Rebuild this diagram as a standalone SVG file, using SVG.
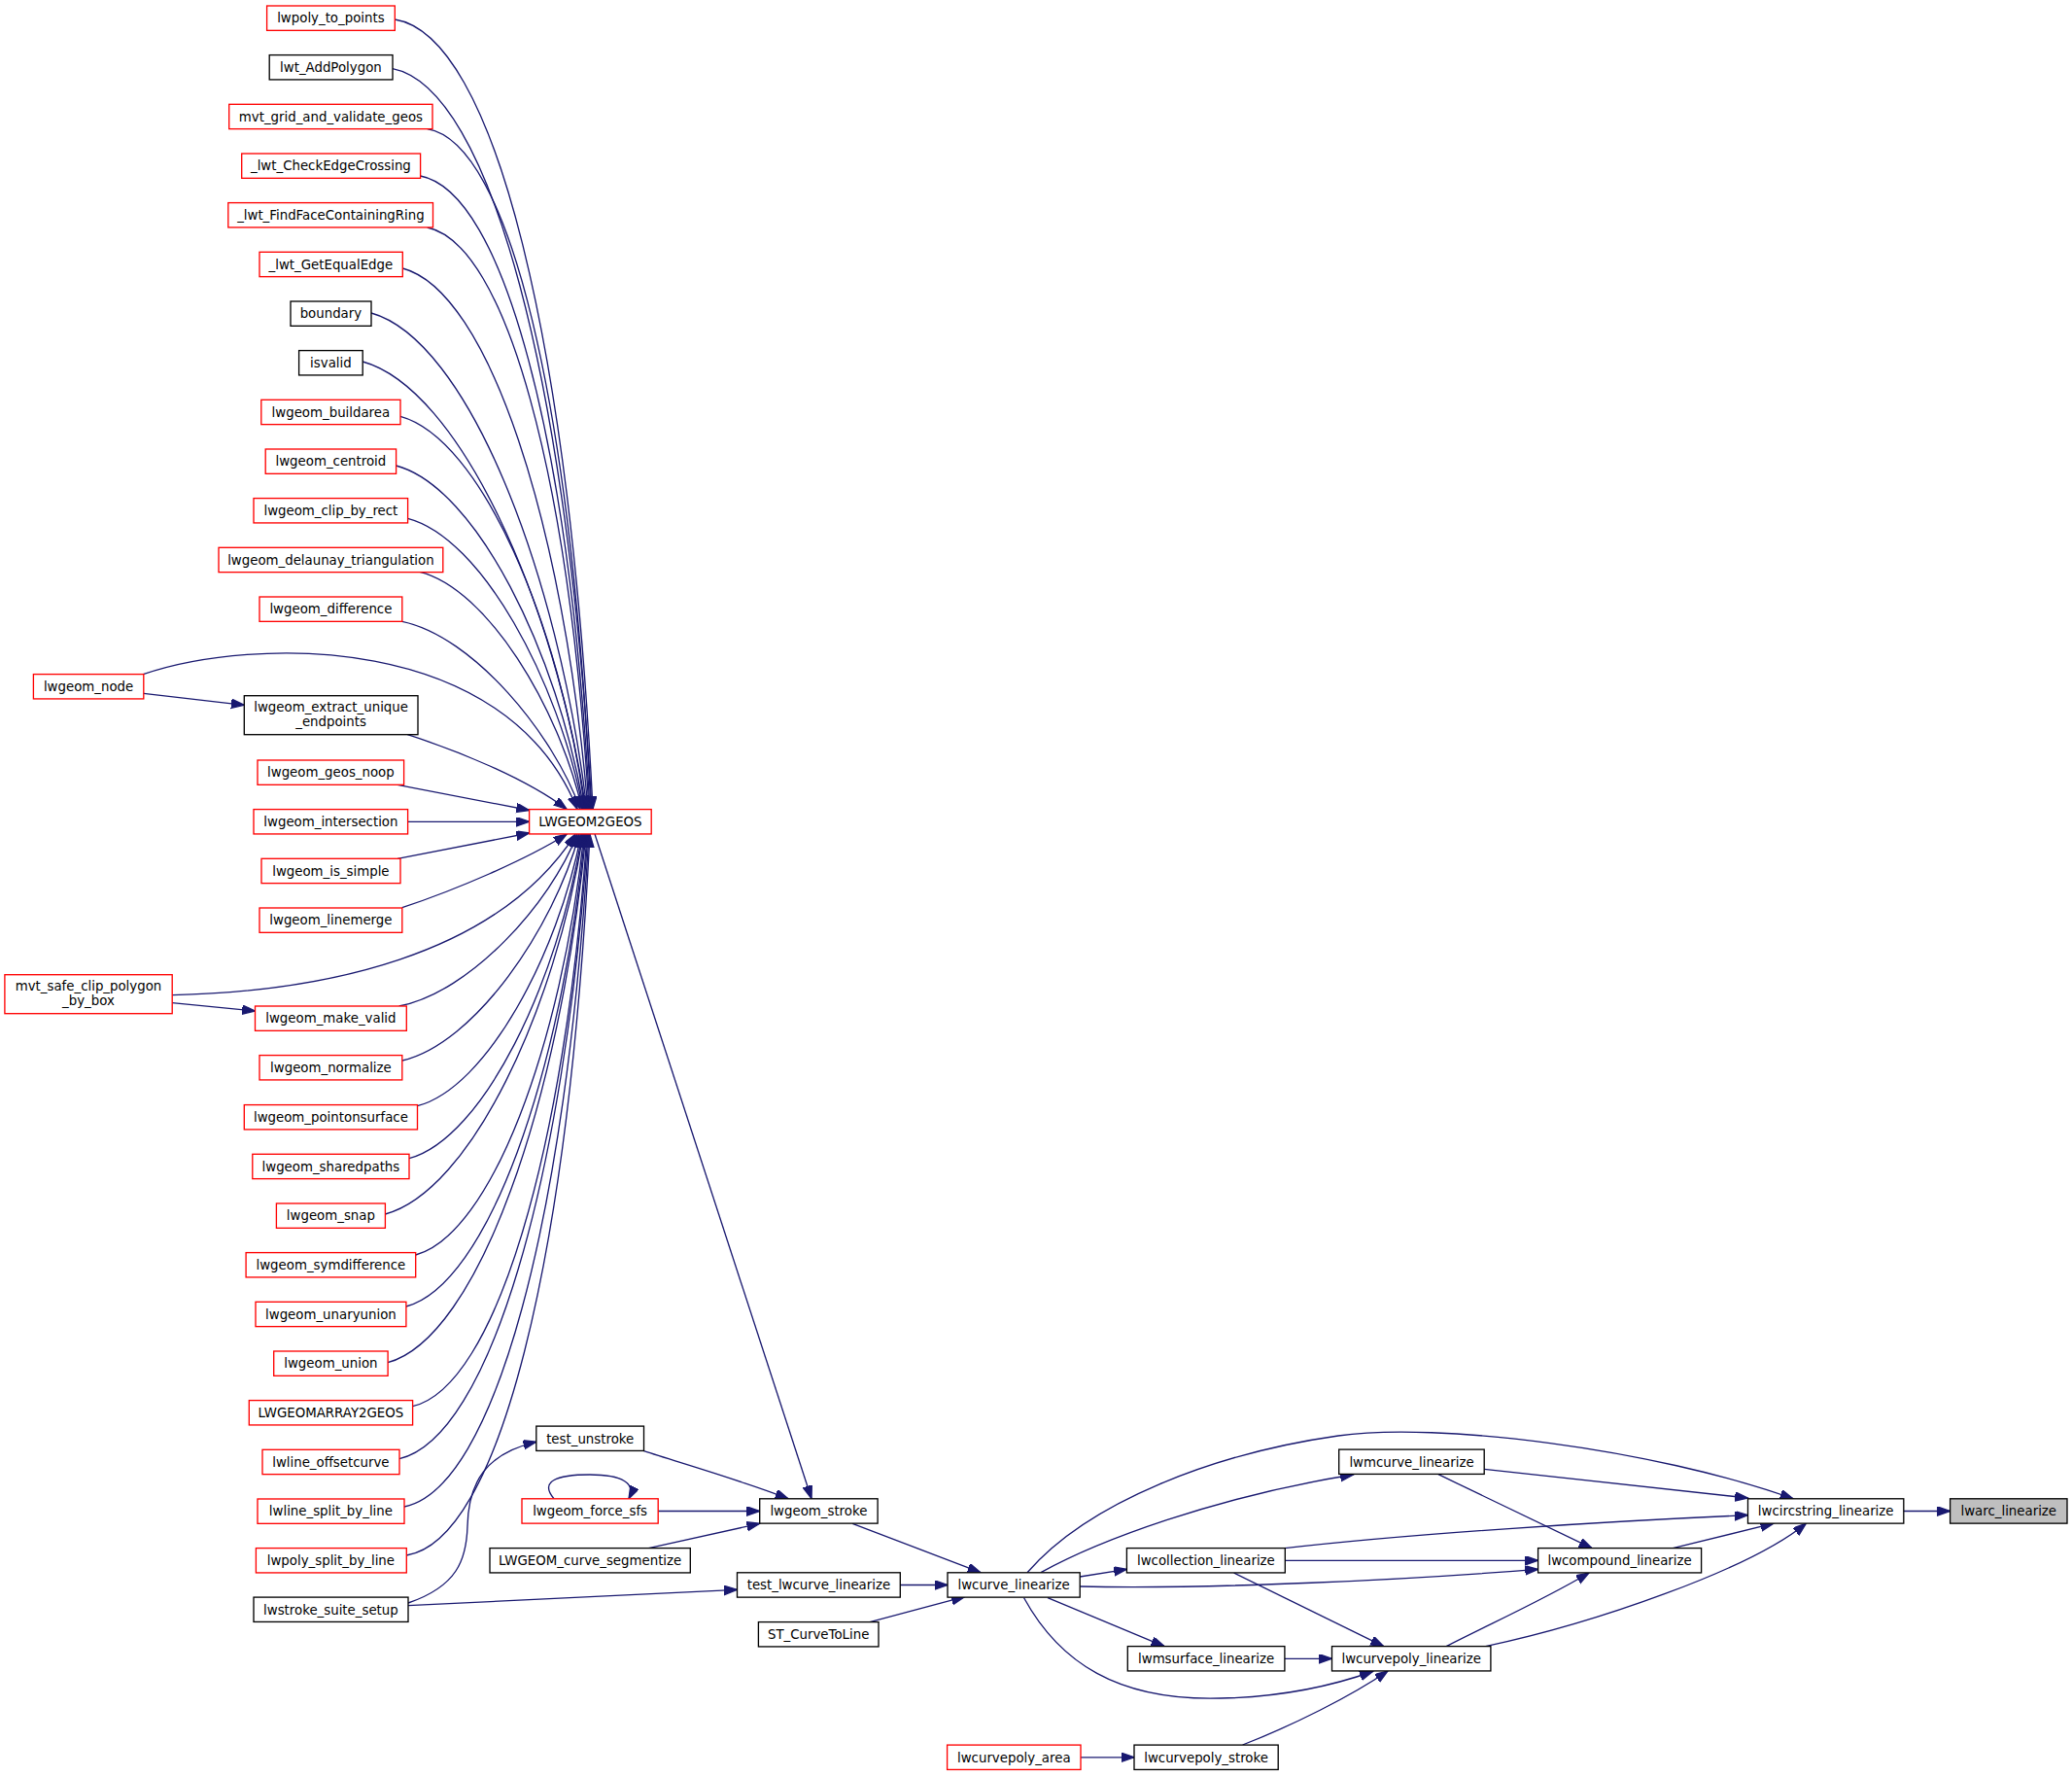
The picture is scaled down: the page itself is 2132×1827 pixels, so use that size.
<svg xmlns="http://www.w3.org/2000/svg" width="2132" height="1827" viewBox="0 0 2132 1827">
<style>
.node rect{fill:#ffffff;stroke:#000000;stroke-width:1.33}
.node.red rect{stroke:#ff0000}
.node.cur rect{fill:#bfbfbf}
.node text{font-family:"DejaVu Sans","Liberation Sans",sans-serif;font-size:13.33px;fill:#000000;text-anchor:middle}
.edges path{fill:none;stroke:#191970;stroke-width:1.33;marker-end:url(#arr)}
</style>
<defs>
<marker id="arr" markerUnits="userSpaceOnUse" markerWidth="16" markerHeight="12" refX="13.33" refY="4.67" orient="auto">
<path d="M0,0 L13.33,4.67 L0,9.33 Z" fill="#191970" stroke="#191970" stroke-width="1.33"/>
</marker>
</defs>
<rect x="0" y="0" width="2132" height="1827" fill="#ffffff"/>
<g id="edges" class="edges">
<path d="M406.3,20 C508.2,36.2 585.6,344.9 610,832.3"/>
<path d="M404,70.7 C504.5,90.5 583.8,390.6 609,832.3"/>
<path d="M439.7,132.7 C523.9,146.7 587.8,412.5 608,832.3"/>
<path d="M432.6,181 C518.2,197.3 585.6,453.2 607,832.3"/>
<path d="M439.7,234 C520.7,250.8 585.4,488.9 606,832.3"/>
<path d="M414.3,276 C502.8,299.4 580,538.6 605,832.3"/>
<path d="M382,322 C480.3,349.6 573.6,584.3 604,832.3"/>
<path d="M373.2,372 C472.7,399.6 570.8,617.8 603,832.3"/>
<path d="M412,428.3 C495.2,451.3 575.6,640 602,832.3"/>
<path d="M407.6,479 C490.4,501.3 573.5,671.2 601,832.3"/>
<path d="M419.6,533.3 C495.7,553.3 574.2,699.5 600,832.3"/>
<path d="M432,588.3 C501.3,605.6 574.8,727.4 599,832.3"/>
<path d="M413.8,639.3 C487.1,654.7 569.5,755.1 597,832.3"/>
<path d="M147.3,693.7 C260,655 520,650 594,832.3"/>
<path d="M147.8,713.3 L251.3,725.3"/>
<path d="M419.3,755.7 C470,772 540,800 583,832.3"/>
<path d="M409,807.3 L544.6,833.5"/>
<path d="M419.6,845.3 L544.6,845.3"/>
<path d="M409,883.3 L544.6,857"/>
<path d="M413.8,933.7 C470,915 540,885 583,858.3"/>
<path d="M177.2,1023.7 C330,1020 510,985 592,858.3"/>
<path d="M177.2,1031.7 L262.5,1040"/>
<path d="M410.7,1035 C484,1020.9 566.5,929 594,858.3"/>
<path d="M414,1091 C488.4,1073.5 569.2,955.6 596,858.3"/>
<path d="M429.5,1137.7 C500.6,1119 573.9,982.4 598,858.3"/>
<path d="M421,1191.7 C497.4,1170.7 573.9,1011 599,858.3"/>
<path d="M396.4,1249 C484.2,1225.2 571.3,1038.8 600,858.3"/>
<path d="M427.7,1291 C505.7,1269.4 577.6,1074.6 601,858.3"/>
<path d="M417.9,1344 C501.7,1321.2 577.4,1106 602,858.3"/>
<path d="M399,1401.7 C491.8,1376.2 575.8,1135.4 603,858.3"/>
<path d="M424.6,1446.7 C510,1426.7 581.2,1183.1 604,858.3"/>
<path d="M411,1500.7 C503.5,1478.9 580.4,1214.2 605,858.3"/>
<path d="M416,1550 C508.7,1531.3 582.4,1256.7 606,858.3"/>
<path d="M418.3,1600 C512.7,1585.2 584.4,1303.3 607,858.3"/>
<path d="M420,1649 C470,1632 480,1605 481,1570 C482,1525 500,1495 551.8,1483.3"/>
<path d="M420,1651.7 L758.5,1635.3"/>
<path d="M662.5,1492.7 C700,1505 760,1522 811,1541.7"/>
<path d="M677.2,1554.5 L781.7,1554.5"/>
<path d="M570,1541.7 C555,1524 572,1517 607,1517 C640,1517 655,1526 647,1541.7"/>
<path d="M667.4,1592.7 L781.7,1567.3"/>
<path d="M612,858 L835,1541.7"/>
<path d="M877.2,1567.3 L1009,1617.7"/>
<path d="M926.3,1630.5 L975,1630.5"/>
<path d="M895,1668.7 L992.4,1642.7"/>
<path d="M1112,1807.8 L1167,1807.8"/>
<path d="M1057,1617.7 C1120,1545 1250,1495 1377,1477 C1479,1462.6 1700,1490 1845,1541.7"/>
<path d="M1071,1617.7 C1130,1585 1250,1540 1392.4,1517"/>
<path d="M1111.2,1622 L1159.4,1614.3"/>
<path d="M1111.2,1632 C1250,1635 1450,1625 1582.6,1614.3"/>
<path d="M1078,1643.7 L1198,1693.6"/>
<path d="M1053.6,1643.7 C1090,1710 1150,1750 1256,1747 C1310,1746 1360,1738 1412.5,1719.5"/>
<path d="M1527.2,1511.3 L1798.5,1541"/>
<path d="M1480,1516.7 L1638,1592.7"/>
<path d="M1322,1592.7 C1450,1578 1650,1565 1798.5,1558.7"/>
<path d="M1322.3,1605.3 L1582.6,1605.3"/>
<path d="M1269.6,1618 L1423.7,1693.6"/>
<path d="M1321.9,1706.3 L1370.5,1706.3"/>
<path d="M1488,1693.7 C1530,1672 1590,1645 1635,1618"/>
<path d="M1528.6,1693.7 C1640,1670 1800,1615 1858.3,1567.2"/>
<path d="M1278.6,1795 C1330,1775 1390,1745 1428,1719"/>
<path d="M1721.3,1592.7 L1824.9,1567.2"/>
<path d="M1958.8,1554.5 L2006.6,1554.5"/>
</g>
<g id="n_lwpoly_to_points" class="node red"><rect x="274.6" y="6" width="131.7" height="25.33"/><text x="340.4" y="23.4">lwpoly_to_points</text></g>
<g id="n_lwt_AddPolygon" class="node"><rect x="277.2" y="56.6" width="126.8" height="25.33"/><text x="340.4" y="74">lwt_AddPolygon</text></g>
<g id="n_mvt_grid_and_validate_geos" class="node red"><rect x="235.7" y="107.3" width="209.3" height="25.33"/><text x="340.4" y="124.7">mvt_grid_and_validate_geos</text></g>
<g id="n_lwt_CheckEdgeCrossing" class="node red"><rect x="248.7" y="158" width="183.9" height="25.33"/><text x="340.4" y="175.4">_lwt_CheckEdgeCrossing</text></g>
<g id="n_lwt_FindFaceContainingRing" class="node red"><rect x="234.8" y="208.6" width="210.7" height="25.33"/><text x="340.4" y="226">_lwt_FindFaceContainingRing</text></g>
<g id="n_lwt_GetEqualEdge" class="node red"><rect x="267" y="259.3" width="147.3" height="25.33"/><text x="340.4" y="276.7">_lwt_GetEqualEdge</text></g>
<g id="n_boundary" class="node"><rect x="299" y="310" width="83" height="25.33"/><text x="340.4" y="327.4">boundary</text></g>
<g id="n_isvalid" class="node"><rect x="307.6" y="360.6" width="65.6" height="25.33"/><text x="340.4" y="378">isvalid</text></g>
<g id="n_lwgeom_buildarea" class="node red"><rect x="268.8" y="411.3" width="143.2" height="25.33"/><text x="340.4" y="428.7">lwgeom_buildarea</text></g>
<g id="n_lwgeom_centroid" class="node red"><rect x="273.2" y="462" width="134.4" height="25.33"/><text x="340.4" y="479.4">lwgeom_centroid</text></g>
<g id="n_lwgeom_clip_by_rect" class="node red"><rect x="261" y="512.6" width="158.6" height="25.33"/><text x="340.4" y="530">lwgeom_clip_by_rect</text></g>
<g id="n_lwgeom_delaunay_triangulation" class="node red"><rect x="225" y="563.3" width="230.8" height="25.33"/><text x="340.4" y="580.7">lwgeom_delaunay_triangulation</text></g>
<g id="n_lwgeom_difference" class="node red"><rect x="267" y="614" width="146.8" height="25.33"/><text x="340.4" y="631.4">lwgeom_difference</text></g>
<g id="n_lwgeom_node" class="node red"><rect x="34.4" y="693.6" width="113.4" height="25.33"/><text x="91.1" y="711">lwgeom_node</text></g>
<g id="n_lwgeom_extract_unique_endpoints" class="node"><rect x="251.3" y="715.7" width="178.7" height="40"/><text x="340.6" y="732.2">lwgeom_extract_unique</text><text x="340.6" y="746.9">_endpoints</text></g>
<g id="n_lwgeom_geos_noop" class="node red"><rect x="265" y="782" width="150.6" height="25.33"/><text x="340.4" y="799.4">lwgeom_geos_noop</text></g>
<g id="n_lwgeom_intersection" class="node red"><rect x="261" y="832.6" width="158.6" height="25.33"/><text x="340.4" y="850">lwgeom_intersection</text></g>
<g id="n_lwgeom_is_simple" class="node red"><rect x="269" y="883.3" width="143" height="25.33"/><text x="340.4" y="900.7">lwgeom_is_simple</text></g>
<g id="n_lwgeom_linemerge" class="node red"><rect x="267" y="934" width="146.8" height="25.33"/><text x="340.4" y="951.4">lwgeom_linemerge</text></g>
<g id="n_mvt_safe_clip_polygon_by_box" class="node red"><rect x="4.9" y="1002.7" width="172.3" height="40"/><text x="91" y="1019.2">mvt_safe_clip_polygon</text><text x="91" y="1033.9">_by_box</text></g>
<g id="n_lwgeom_make_valid" class="node red"><rect x="262.5" y="1035" width="155.8" height="25.33"/><text x="340.4" y="1052.4">lwgeom_make_valid</text></g>
<g id="n_lwgeom_normalize" class="node red"><rect x="267" y="1085.6" width="146.8" height="25.33"/><text x="340.4" y="1103">lwgeom_normalize</text></g>
<g id="n_lwgeom_pointonsurface" class="node red"><rect x="251.3" y="1136.6" width="178.2" height="25.33"/><text x="340.4" y="1154">lwgeom_pointonsurface</text></g>
<g id="n_lwgeom_sharedpaths" class="node red"><rect x="259.8" y="1187.3" width="161.2" height="25.33"/><text x="340.4" y="1204.7">lwgeom_sharedpaths</text></g>
<g id="n_lwgeom_snap" class="node red"><rect x="284.4" y="1238" width="112" height="25.33"/><text x="340.4" y="1255.4">lwgeom_snap</text></g>
<g id="n_lwgeom_symdifference" class="node red"><rect x="253.1" y="1288.6" width="174.6" height="25.33"/><text x="340.4" y="1306">lwgeom_symdifference</text></g>
<g id="n_lwgeom_unaryunion" class="node red"><rect x="263" y="1339.3" width="154.9" height="25.33"/><text x="340.4" y="1356.7">lwgeom_unaryunion</text></g>
<g id="n_lwgeom_union" class="node red"><rect x="281.7" y="1390" width="117.4" height="25.33"/><text x="340.4" y="1407.4">lwgeom_union</text></g>
<g id="n_LWGEOMARRAY2GEOS" class="node red"><rect x="256.3" y="1440.6" width="168.3" height="25.33"/><text x="340.4" y="1458">LWGEOMARRAY2GEOS</text></g>
<g id="n_lwline_offsetcurve" class="node red"><rect x="270" y="1491.3" width="141" height="25.33"/><text x="340.4" y="1508.7">lwline_offsetcurve</text></g>
<g id="n_lwline_split_by_line" class="node red"><rect x="265" y="1542" width="151" height="25.33"/><text x="340.4" y="1559.4">lwline_split_by_line</text></g>
<g id="n_lwpoly_split_by_line" class="node red"><rect x="263.4" y="1592.6" width="154.9" height="25.33"/><text x="340.4" y="1610">lwpoly_split_by_line</text></g>
<g id="n_lwstroke_suite_setup" class="node"><rect x="261" y="1643.1" width="159" height="25.33"/><text x="340.4" y="1660.5">lwstroke_suite_setup</text></g>
<g id="n_LWGEOM2GEOS" class="node red"><rect x="544.6" y="832.6" width="125.6" height="25.33"/><text x="607.4" y="850">LWGEOM2GEOS</text></g>
<g id="n_test_unstroke" class="node"><rect x="551.8" y="1467.1" width="110.7" height="25.33"/><text x="607.2" y="1484.5">test_unstroke</text></g>
<g id="n_lwgeom_force_sfs" class="node red"><rect x="537" y="1541.8" width="140.2" height="25.33"/><text x="607.1" y="1559.2">lwgeom_force_sfs</text></g>
<g id="n_LWGEOM_curve_segmentize" class="node"><rect x="504" y="1592.6" width="206.3" height="25.33"/><text x="607.2" y="1610">LWGEOM_curve_segmentize</text></g>
<g id="n_lwgeom_stroke" class="node"><rect x="781.7" y="1541.8" width="121.4" height="25.33"/><text x="842.4" y="1559.2">lwgeom_stroke</text></g>
<g id="n_test_lwcurve_linearize" class="node"><rect x="758.5" y="1617.8" width="167.8" height="25.33"/><text x="842.4" y="1635.2">test_lwcurve_linearize</text></g>
<g id="n_ST_CurveToLine" class="node"><rect x="780.4" y="1668.6" width="123.6" height="25.33"/><text x="842.2" y="1686">ST_CurveToLine</text></g>
<g id="n_lwcurve_linearize" class="node"><rect x="975" y="1617.8" width="136.2" height="25.33"/><text x="1043.1" y="1635.2">lwcurve_linearize</text></g>
<g id="n_lwcurvepoly_area" class="node red"><rect x="974.6" y="1795.1" width="137.4" height="25.33"/><text x="1043.3" y="1812.5">lwcurvepoly_area</text></g>
<g id="n_lwmcurve_linearize" class="node"><rect x="1377.7" y="1491.1" width="149.5" height="25.33"/><text x="1452.5" y="1508.5">lwmcurve_linearize</text></g>
<g id="n_lwcollection_linearize" class="node"><rect x="1159.4" y="1592.6" width="162.9" height="25.33"/><text x="1240.9" y="1610">lwcollection_linearize</text></g>
<g id="n_lwmsurface_linearize" class="node"><rect x="1160.3" y="1693.6" width="161.6" height="25.33"/><text x="1241.1" y="1711">lwmsurface_linearize</text></g>
<g id="n_lwcurvepoly_linearize" class="node"><rect x="1370.5" y="1693.6" width="163.4" height="25.33"/><text x="1452.2" y="1711">lwcurvepoly_linearize</text></g>
<g id="n_lwcurvepoly_stroke" class="node"><rect x="1167" y="1795.1" width="148.2" height="25.33"/><text x="1241.1" y="1812.5">lwcurvepoly_stroke</text></g>
<g id="n_lwcompound_linearize" class="node"><rect x="1582.6" y="1592.6" width="168" height="25.33"/><text x="1666.6" y="1610">lwcompound_linearize</text></g>
<g id="n_lwcircstring_linearize" class="node"><rect x="1798.5" y="1541.8" width="160.3" height="25.33"/><text x="1878.7" y="1559.2">lwcircstring_linearize</text></g>
<g id="n_lwarc_linearize" class="node cur"><rect x="2006.6" y="1541.8" width="120.4" height="25.33"/><text x="2066.8" y="1559.2">lwarc_linearize</text></g>
</svg>
